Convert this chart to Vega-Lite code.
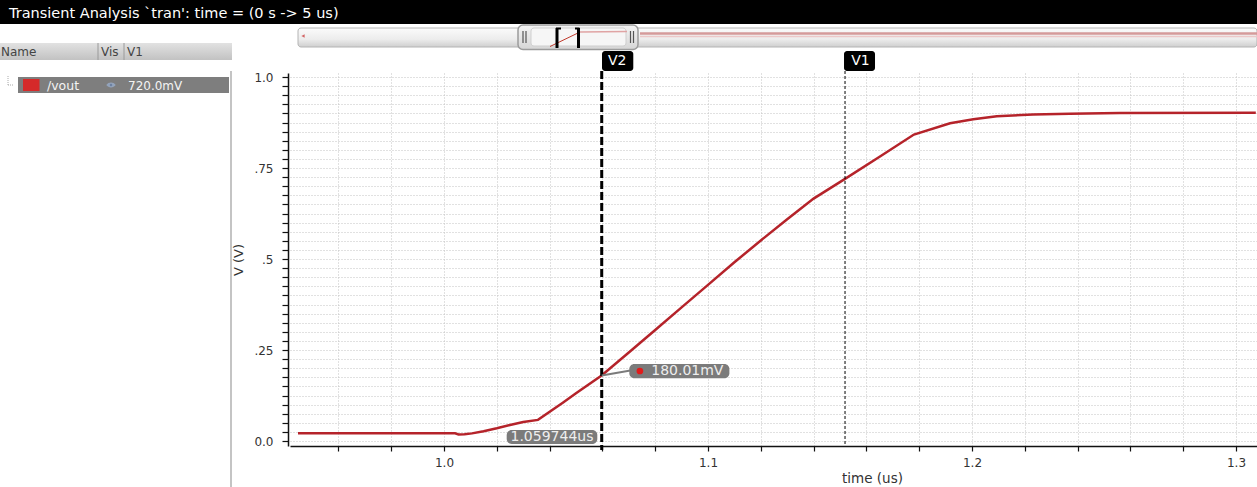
{
  "$schema": "https://vega.github.io/schema/vega-lite/v6.json",
  "padding": 0,
  "background": "white",
  "bounds": "flush",
  "spacing": 0,
  "config": {"view": {"stroke": null}, "font": "DejaVu Sans"},
  "datasets": {
    "wave": [
      {"t": 0.9447, "v": 0.021}, {"t": 0.97, "v": 0.021}, {"t": 1.0, "v": 0.021}, {"t": 1.0042, "v": 0.021},
      {"t": 1.0055, "v": 0.018}, {"t": 1.0078, "v": 0.0185}, {"t": 1.0106, "v": 0.021}, {"t": 1.015, "v": 0.027},
      {"t": 1.02, "v": 0.035}, {"t": 1.025, "v": 0.044}, {"t": 1.03, "v": 0.052}, {"t": 1.0356, "v": 0.058},
      {"t": 1.045, "v": 0.105}, {"t": 1.05, "v": 0.131}, {"t": 1.0597, "v": 0.18}, {"t": 1.07, "v": 0.243},
      {"t": 1.08, "v": 0.305}, {"t": 1.09, "v": 0.367}, {"t": 1.1, "v": 0.429}, {"t": 1.11, "v": 0.491},
      {"t": 1.12, "v": 0.551}, {"t": 1.13, "v": 0.609}, {"t": 1.14, "v": 0.666}, {"t": 1.1519, "v": 0.72},
      {"t": 1.165, "v": 0.781}, {"t": 1.178, "v": 0.842}, {"t": 1.1917, "v": 0.873}, {"t": 1.2005, "v": 0.884},
      {"t": 1.2094, "v": 0.892}, {"t": 1.2231, "v": 0.897}, {"t": 1.237, "v": 0.899}, {"t": 1.256, "v": 0.901},
      {"t": 1.3075, "v": 0.902}
    ],
    "markers": [
      {"name": "V2", "t": 1.059744, "v": 0.18001, "tlabel": "1.059744us", "vlabel": "180.01mV"},
      {"name": "V1", "t": 1.1519, "v": 0.72, "tlabel": "1.1519us", "vlabel": "720.0mV"}
    ],
    "legend": [{"signal": "/vout", "cursor": "720.0mV"}],
    "header": [{"title": "Transient Analysis `tran': time = (0 s -> 5 us)"}]
  },
  "vconcat": [
    {
      "width": 1257,
      "height": 24,
      "data": {"name": "header"},
      "encoding": {
        "x": {"datum": 0, "type": "quantitative", "scale": {"domain": [0, 1257], "nice": false, "zero": false}, "axis": null},
        "y": {"datum": 12, "type": "quantitative", "scale": {"domain": [0, 24], "reverse": true, "nice": false, "zero": false}, "axis": null}
      },
      "layer": [
        {"mark": {"type": "rect", "color": "black"}, "encoding": {"x": {"datum": 0, "type": "quantitative"}, "x2": {"datum": 1257}, "y": {"datum": 0, "type": "quantitative"}, "y2": {"datum": 24}}},
        {"mark": {"type": "text", "color": "white", "fontSize": 14.5, "align": "left", "baseline": "middle", "font": "DejaVu Sans"}, "encoding": {"x": {"datum": 9, "type": "quantitative"}, "y": {"datum": 14, "type": "quantitative"}, "text": {"field": "title"}}}
      ]
    },
    {
      "hconcat": [
        {
          "width": 230,
          "height": 463,
          "data": {"name": "legend"},
          "encoding": {
            "x": {"datum": 0, "type": "quantitative", "scale": {"domain": [0, 230], "nice": false, "zero": false}, "axis": null},
            "y": {"datum": 0, "type": "quantitative", "scale": {"domain": [0, 463], "reverse": true, "nice": false, "zero": false}, "axis": null}
          },
          "layer": [
            {"mark": {"type": "rect", "color": {"gradient": "linear", "x1": 0, "y1": 0, "x2": 0, "y2": 1, "stops": [{"offset": 0, "color": "#e2e2e2"}, {"offset": 1, "color": "#c2c2c2"}]}},
             "encoding": {"x": {"datum": 0, "type": "quantitative"}, "x2": {"datum": 232}, "y": {"datum": 19, "type": "quantitative"}, "y2": {"datum": 36}}},
            {"mark": {"type": "rule", "color": "#9a9a9a", "strokeWidth": 1}, "encoding": {"x": {"datum": 98, "type": "quantitative"}, "y": {"datum": 19, "type": "quantitative"}, "y2": {"datum": 36}}},
            {"mark": {"type": "rule", "color": "#9a9a9a", "strokeWidth": 1}, "encoding": {"x": {"datum": 124, "type": "quantitative"}, "y": {"datum": 19, "type": "quantitative"}, "y2": {"datum": 36}}},
            {"mark": {"type": "text", "color": "#444", "fontSize": 12, "align": "left", "baseline": "middle"}, "encoding": {"x": {"datum": 1, "type": "quantitative"}, "y": {"datum": 27.5, "type": "quantitative"}, "text": {"value": "Name"}}},
            {"mark": {"type": "text", "color": "#444", "fontSize": 12, "align": "left", "baseline": "middle"}, "encoding": {"x": {"datum": 101, "type": "quantitative"}, "y": {"datum": 27.5, "type": "quantitative"}, "text": {"value": "Vis"}}},
            {"mark": {"type": "text", "color": "#444", "fontSize": 12, "align": "left", "baseline": "middle"}, "encoding": {"x": {"datum": 127, "type": "quantitative"}, "y": {"datum": 27.5, "type": "quantitative"}, "text": {"value": "V1"}}},
            {"mark": {"type": "rule", "color": "#aaaaaa", "strokeWidth": 1, "strokeDash": [1, 1]}, "encoding": {"x": {"datum": 8, "type": "quantitative"}, "y": {"datum": 52, "type": "quantitative"}, "y2": {"datum": 61}}},
            {"mark": {"type": "rule", "color": "#aaaaaa", "strokeWidth": 1, "strokeDash": [1, 1]}, "encoding": {"x": {"datum": 8, "type": "quantitative"}, "x2": {"datum": 13}, "y": {"datum": 61, "type": "quantitative"}}},
            {"mark": {"type": "rect", "color": "#7e7e7e"}, "encoding": {"x": {"datum": 18, "type": "quantitative"}, "x2": {"datum": 229}, "y": {"datum": 53, "type": "quantitative"}, "y2": {"datum": 69}}},
            {"mark": {"type": "rect", "color": "#d52a2a"}, "encoding": {"x": {"datum": 23, "type": "quantitative"}, "x2": {"datum": 39.5}, "y": {"datum": 55, "type": "quantitative"}, "y2": {"datum": 67}}},
            {"mark": {"type": "text", "color": "#f4f4f4", "fontSize": 12.5, "align": "left", "baseline": "middle"}, "encoding": {"x": {"datum": 47, "type": "quantitative"}, "y": {"datum": 61.5, "type": "quantitative"}, "text": {"field": "signal"}}},
            {"mark": {"type": "point", "shape": "M-1,0 C-0.5,-0.7 0.5,-0.7 1,0 C0.5,0.7 -0.5,0.7 -1,0 Z", "filled": true, "color": "#9db3d6", "size": 90}, "encoding": {"x": {"datum": 111, "type": "quantitative"}, "y": {"datum": 61, "type": "quantitative"}}},
            {"mark": {"type": "point", "filled": true, "color": "#5d7499", "size": 6}, "encoding": {"x": {"datum": 111, "type": "quantitative"}, "y": {"datum": 61, "type": "quantitative"}}},
            {"mark": {"type": "text", "color": "#f4f4f4", "fontSize": 12, "align": "left", "baseline": "middle"}, "encoding": {"x": {"datum": 128, "type": "quantitative"}, "y": {"datum": 61.5, "type": "quantitative"}, "text": {"field": "cursor"}}},
            {"mark": {"type": "rule", "color": "#c4c4c4", "strokeWidth": 2}, "encoding": {"x": {"datum": 231, "type": "quantitative"}, "y": {"datum": 47, "type": "quantitative"}, "y2": {"datum": 463}}}
          ]
        },
        {
          "vconcat": [
            {
              "width": 967,
              "height": 26,
              "data": {"values": [{}]},
              "encoding": {
                "x": {"datum": 0, "type": "quantitative", "scale": {"domain": [0, 967], "nice": false, "zero": false}, "axis": null},
                "y": {"datum": 0, "type": "quantitative", "scale": {"domain": [0, 26], "reverse": true, "nice": false, "zero": false}, "axis": null}
              },
              "layer": [
                {"mark": {"type": "rect", "cornerRadius": 3, "stroke": "#b4b4b4", "strokeWidth": 1, "color": {"gradient": "linear", "x1": 0, "y1": 0, "x2": 0, "y2": 1, "stops": [{"offset": 0, "color": "#fbfbfb"}, {"offset": 0.6, "color": "#ececec"}, {"offset": 1, "color": "#cfcfcf"}]}},
                 "encoding": {"x": {"datum": 8, "type": "quantitative"}, "x2": {"datum": 967}, "y": {"datum": 4, "type": "quantitative"}, "y2": {"datum": 23}}},
                {"mark": {"type": "rule", "color": "#d59a9a", "strokeWidth": 2.5}, "encoding": {"x": {"datum": 350, "type": "quantitative"}, "x2": {"datum": 967}, "y": {"datum": 9.5, "type": "quantitative"}}},
                {"mark": {"type": "rule", "color": "#ecc8c8", "strokeWidth": 1.5}, "encoding": {"x": {"datum": 350, "type": "quantitative"}, "x2": {"datum": 967}, "y": {"datum": 12.5, "type": "quantitative"}}},
                {"mark": {"type": "point", "shape": "triangle-left", "filled": true, "color": "#c62828", "size": 14}, "encoding": {"x": {"datum": 13, "type": "quantitative"}, "y": {"datum": 12, "type": "quantitative"}}},
                {"mark": {"type": "rect", "cornerRadius": 5, "stroke": "#9c9c9c", "strokeWidth": 1.5, "color": {"gradient": "linear", "x1": 0, "y1": 0, "x2": 0, "y2": 1, "stops": [{"offset": 0, "color": "#f4f4f4"}, {"offset": 1, "color": "#d6d6d6"}]}},
                 "encoding": {"x": {"datum": 228, "type": "quantitative"}, "x2": {"datum": 348}, "y": {"datum": 1, "type": "quantitative"}, "y2": {"datum": 25.5}}},
                {"mark": {"type": "rect", "cornerRadius": 3, "stroke": "#cfcfcf", "strokeWidth": 1, "color": "#f6f6f6"}, "encoding": {"x": {"datum": 241, "type": "quantitative"}, "x2": {"datum": 336}, "y": {"datum": 4, "type": "quantitative"}, "y2": {"datum": 22}}},
                {"mark": {"type": "rule", "color": "#555555", "strokeWidth": 1.2}, "encoding": {"x": {"datum": 233, "type": "quantitative"}, "y": {"datum": 7, "type": "quantitative"}, "y2": {"datum": 19}}},
                {"mark": {"type": "rule", "color": "#555555", "strokeWidth": 1.2}, "encoding": {"x": {"datum": 236, "type": "quantitative"}, "y": {"datum": 7, "type": "quantitative"}, "y2": {"datum": 19}}},
                {"mark": {"type": "rule", "color": "#555555", "strokeWidth": 1.2}, "encoding": {"x": {"datum": 340.5, "type": "quantitative"}, "y": {"datum": 7, "type": "quantitative"}, "y2": {"datum": 19}}},
                {"mark": {"type": "rule", "color": "#555555", "strokeWidth": 1.2}, "encoding": {"x": {"datum": 343.5, "type": "quantitative"}, "y": {"datum": 7, "type": "quantitative"}, "y2": {"datum": 19}}},
                {"mark": {"type": "rule", "color": "#c0392b", "strokeWidth": 1}, "encoding": {"x": {"datum": 260, "type": "quantitative"}, "x2": {"datum": 290}, "y": {"datum": 22.5, "type": "quantitative"}, "y2": {"datum": 8}}},
                {"mark": {"type": "rule", "color": "#e0a4a4", "strokeWidth": 1.5}, "encoding": {"x": {"datum": 290, "type": "quantitative"}, "x2": {"datum": 337}, "y": {"datum": 8, "type": "quantitative"}, "y2": {"datum": 7.5}}},
                {"mark": {"type": "rule", "color": "black", "strokeWidth": 3}, "encoding": {"x": {"datum": 267, "type": "quantitative"}, "y": {"datum": 4, "type": "quantitative"}, "y2": {"datum": 24}}},
                {"mark": {"type": "rule", "color": "black", "strokeWidth": 2}, "encoding": {"x": {"datum": 266, "type": "quantitative"}, "x2": {"datum": 271}, "y": {"datum": 4.5, "type": "quantitative"}}},
                {"mark": {"type": "rule", "color": "black", "strokeWidth": 3}, "encoding": {"x": {"datum": 288.5, "type": "quantitative"}, "y": {"datum": 4, "type": "quantitative"}, "y2": {"datum": 24}}},
                {"mark": {"type": "rule", "color": "black", "strokeWidth": 2}, "encoding": {"x": {"datum": 285, "type": "quantitative"}, "x2": {"datum": 289.5}, "y": {"datum": 4.5, "type": "quantitative"}}}
              ]
            },
            {
              "width": 967,
              "height": 373,
              "data": {"name": "markers"},
              "layer": [
                {
                  "data": {"name": "wave"},
                  "mark": {"type": "line", "color": "#b5232a", "strokeWidth": 2.5},
                  "encoding": {
                    "x": {
                      "field": "t", "type": "quantitative",
                      "scale": {"domain": [0.94167, 1.30795], "nice": false, "zero": false},
                      "axis": {
                        "values": [0.96, 0.98, 1.0, 1.02, 1.04, 1.06, 1.08, 1.1, 1.12, 1.14, 1.16, 1.18, 1.2, 1.22, 1.24, 1.26, 1.28, 1.3],
                        "tickCount": 200,
                        "labelExpr": "abs(datum.value*10 - round(datum.value*10)) < 0.001 ? format(datum.value, '.1f') : ''",
                        "labelOverlap": false, "labelFlush": false,
                        "title": "time (us)",
                        "grid": true, "gridColor": "#c2c2c2", "gridDash": [1, 2], "gridWidth": 1,
                        "domainColor": "#111", "domainWidth": 1.5, "tickColor": "#111", "tickSize": 5, "tickWidth": 1.2,
                        "labelFont": "DejaVu Sans", "labelFontSize": 12, "labelColor": "#333", "labelPadding": 6,
                        "titleFont": "DejaVu Sans", "titleFontSize": 13.5, "titleFontWeight": "normal", "titleColor": "#333",
                        "titleX": 582, "titleY": 32, "titleBaseline": "middle", "titleAlign": "center"
                      }
                    },
                    "y": {
                      "field": "v", "type": "quantitative",
                      "scale": {"domain": [-0.0137, 1.011], "nice": false, "zero": false},
                      "axis": {
                        "values": [0, 0.025, 0.05, 0.075, 0.1, 0.125, 0.15, 0.175, 0.2, 0.225, 0.25, 0.275, 0.3, 0.325, 0.35, 0.375, 0.4, 0.425, 0.45, 0.475, 0.5, 0.525, 0.55, 0.575, 0.6, 0.625, 0.65, 0.675, 0.7, 0.725, 0.75, 0.775, 0.8, 0.825, 0.85, 0.875, 0.9, 0.925, 0.95, 0.975, 1.0],
                        "tickCount": 200,
                        "labelExpr": "datum.value == 0 ? '0.0' : abs(datum.value - 1) < 0.0001 ? '1.0' : abs(datum.value*4 - round(datum.value*4)) < 0.0001 ? replace(format(datum.value, '~g'), '0.', '.') : ''",
                        "labelOverlap": false, "labelFlush": false,
                        "title": "V (V)", "offset": 2,
                        "grid": true, "gridColor": "#c2c2c2", "gridDash": [1, 2], "gridWidth": 1,
                        "domainColor": "#111", "domainWidth": 1.5, "tickColor": "#111", "tickSize": 6, "tickWidth": 1.2,
                        "labelFont": "DejaVu Sans", "labelFontSize": 12, "labelColor": "#333", "labelPadding": 9,
                        "titleFont": "DejaVu Sans", "titleFontSize": 13, "titleFontWeight": "normal", "titleColor": "#333", "titlePadding": 8
                      }
                    }
                  }
                },
                {
                  "transform": [{"filter": "datum.name == 'V1'"}],
                  "mark": {"type": "rule", "color": "black", "strokeWidth": 1, "strokeDash": [3, 2]},
                  "encoding": {"x": {"field": "t", "type": "quantitative"}, "y": {"datum": 1.0165, "type": "quantitative"}, "y2": {"datum": -0.0137}}
                },
                {
                  "transform": [{"filter": "datum.name == 'V2'"}],
                  "mark": {"type": "rule", "color": "black", "strokeWidth": 3, "strokeDash": [8, 3]},
                  "encoding": {"x": {"field": "t", "type": "quantitative"}, "y": {"datum": 1.0165, "type": "quantitative"}, "y2": {"datum": -0.025}}
                },
                {
                  "transform": [{"filter": "datum.name == 'V2'"}],
                  "mark": {"type": "rect", "color": "black", "cornerRadius": 3},
                  "encoding": {"x": {"datum": 1.05985, "type": "quantitative"}, "x2": {"datum": 1.0717}, "y": {"datum": 1.0714, "type": "quantitative"}, "y2": {"datum": 1.0165}}
                },
                {
                  "transform": [{"filter": "datum.name == 'V1'"}],
                  "mark": {"type": "rect", "color": "black", "cornerRadius": 3},
                  "encoding": {"x": {"datum": 1.15152, "type": "quantitative"}, "x2": {"datum": 1.16326}, "y": {"datum": 1.0714, "type": "quantitative"}, "y2": {"datum": 1.0165}}
                },
                {
                  "mark": {"type": "text", "color": "white", "fontSize": 14, "align": "center", "baseline": "middle", "dx": 15.5, "font": "DejaVu Sans"},
                  "encoding": {"x": {"field": "t", "type": "quantitative"}, "y": {"datum": 1.044, "type": "quantitative"}, "text": {"field": "name"}}
                },
                {
                  "transform": [{"filter": "datum.name == 'V2'"}],
                  "mark": {"type": "rect", "color": "#7b7b7b", "cornerRadius": 5},
                  "encoding": {"x": {"datum": 1.02375, "type": "quantitative"}, "x2": {"datum": 1.05807}, "y": {"datum": 0.0302, "type": "quantitative"}, "y2": {"datum": -0.0082}}
                },
                {
                  "transform": [{"filter": "datum.name == 'V2'"}],
                  "mark": {"type": "text", "color": "#eeeeee", "fontSize": 14, "align": "center", "baseline": "middle", "font": "DejaVu Sans"},
                  "encoding": {"x": {"datum": 1.04091, "type": "quantitative"}, "y": {"datum": 0.0105, "type": "quantitative"}, "text": {"field": "tlabel"}}
                },
                {
                  "transform": [{"filter": "datum.name == 'V2'"}],
                  "mark": {"type": "rule", "color": "#7b7b7b", "strokeWidth": 2},
                  "encoding": {"x": {"field": "t", "type": "quantitative"}, "y": {"field": "v", "type": "quantitative"}, "x2": {"datum": 1.0706}, "y2": {"datum": 0.1937}}
                },
                {
                  "transform": [{"filter": "datum.name == 'V2'"}],
                  "mark": {"type": "rect", "color": "#7b7b7b", "cornerRadius": 5},
                  "encoding": {"x": {"datum": 1.0702, "type": "quantitative"}, "x2": {"datum": 1.1081}, "y": {"datum": 0.2115, "type": "quantitative"}, "y2": {"datum": 0.1723}}
                },
                {
                  "transform": [{"filter": "datum.name == 'V2'"}],
                  "mark": {"type": "point", "filled": true, "color": "#e01b1b", "size": 45, "opacity": 1},
                  "encoding": {"x": {"datum": 1.0742, "type": "quantitative"}, "y": {"datum": 0.1923, "type": "quantitative"}}
                },
                {
                  "transform": [{"filter": "datum.name == 'V2'"}],
                  "mark": {"type": "text", "color": "#eeeeee", "fontSize": 14, "align": "left", "baseline": "middle", "font": "DejaVu Sans"},
                  "encoding": {"x": {"datum": 1.0785, "type": "quantitative"}, "y": {"datum": 0.1923, "type": "quantitative"}, "text": {"field": "vlabel"}}
                }
              ]
            }
          ],
          "spacing": 23,
          "bounds": "flush"
        }
      ],
      "spacing": 60,
      "bounds": "flush"
    }
  ]
}
